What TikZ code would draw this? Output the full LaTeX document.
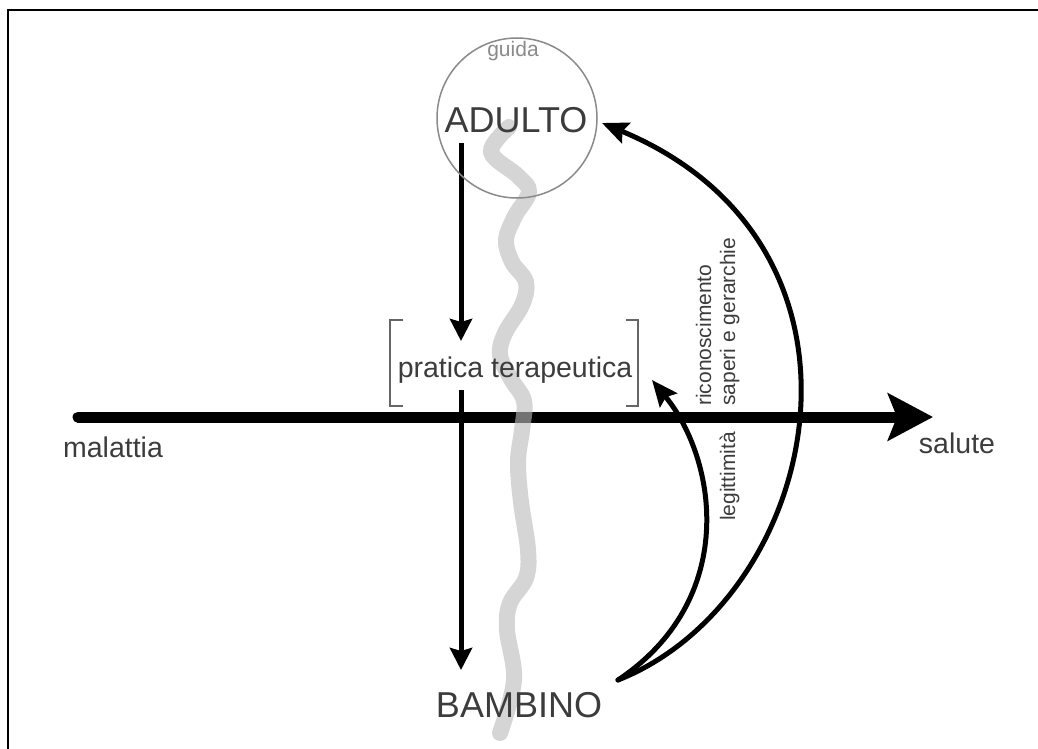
\documentclass[tikz,border=0pt]{standalone}
\usepackage{fontspec}
\setmainfont{Liberation Sans}
\usetikzlibrary{arrows.meta}
\definecolor{ink}{HTML}{3C3C3C}
\definecolor{rim}{HTML}{8A8A8A}
\definecolor{trail}{HTML}{BBBBBB}
\definecolor{bracketgray}{HTML}{666666}
\begin{document}
\begin{tikzpicture}[x=1pt,y=-1pt,
  bigword/.style={font=\fontsize{36}{40}\selectfont, text=ink, inner sep=0pt, anchor=base},
  label/.style={font=\fontsize{28.5}{32}\selectfont, text=ink, inner sep=0pt, anchor=base},
  sidelabel/.style={font=\fontsize{21}{24}\selectfont, text=ink, inner sep=0pt, rotate=90, anchor=base west},
  axisline/.style={line width=11pt, line cap=round, -{Stealth[length=45pt, width=47pt, inset=9pt]}},
  downarrow/.style={line width=5pt, -{Stealth[length=22pt, width=22pt, inset=3pt]}},
  curvearrow/.style={line width=5pt, line cap=round, -{Stealth[length=26pt, width=22pt, inset=4pt]}},
  bracketline/.style={draw=bracketgray, line width=1.5pt},
  trailline/.style={draw=trail, line width=16pt, line cap=round, opacity=0.62}
]
\useasboundingbox (0,0) rectangle (1038,749);

% frame
\draw[line width=2pt] (8,749) -- (8,10) -- (1038,10);

% horizontal axis
\coordinate (axisL) at (78,417);
\coordinate (axisR) at (933,417);
\draw[axisline] (axisL) -- (axisR);
\node[label] (malattia) at (113,457) {malattia};
\node[label] (salute) at (957,453) {salute};

% vertical arrows
\coordinate (topstart) at (461,143);
\coordinate (topend) at (461,341);
\coordinate (lowstart) at (461,390);
\coordinate (lowend) at (461,670);
\draw[downarrow] (topstart) -- (topend);
\draw[downarrow] (lowstart) -- (lowend);

% curved arrows from the root
\coordinate (root) at (618,680);
\coordinate (tipbig) at (602,123);
\coordinate (tipsmall) at (652,380);
\draw[curvearrow] (root) .. controls (820,600) and (900,247) .. (tipbig);
\draw[curvearrow] (root) .. controls (738,600) and (718,461) .. (tipsmall);

% brackets around the practice label
\draw[bracketline] (403,320) -- (390,320) -- (390,406) -- (403,406);
\draw[bracketline] (626,320) -- (638,320) -- (638,406) -- (626,406);

% wavy grey trail
\draw[trailline] plot[smooth, tension=0.6] coordinates {
  (509,127) (491,152) (518,176) (529,192) (515,216) (506,240) (512,262)
  (526,282) (522,305) (505,333) (500,355) (511,379) (524,401) (522,430)
  (518,462) (521,502) (528,550) (526,578) (510,603) (507,630) (514,680) (500,733)};

% circle and labels
\node[circle, draw=rim, line width=1.5pt, minimum size=160pt, inner sep=0pt] (guide) at (517,118) {};
\node[font=\fontsize{21}{24}\selectfont, text=rim, inner sep=0pt, anchor=base] (guida) at (513,57) {guida};
\node[bigword] (adulto) at (516,132) {ADULTO};
\node[bigword] (bambino) at (519,717) {BAMBINO};
\node[label] (pratica) at (515,377) {pratica terapeutica};

\node[sidelabel] (ricon) at (711,406) {riconoscimento};
\node[sidelabel] (saperi) at (735,406) {saperi e gerarchie};
\node[sidelabel] (legit) at (735,521) {legittimità};
\end{tikzpicture}
\end{document}
